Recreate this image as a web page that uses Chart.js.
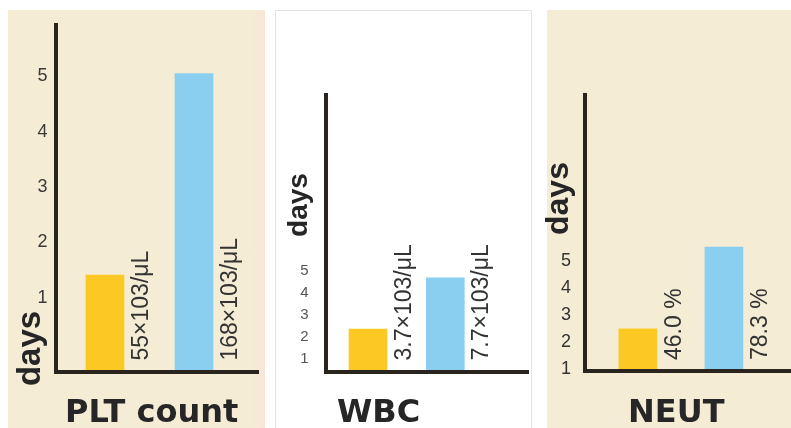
<!DOCTYPE html>
<html>
<head>
<meta charset="utf-8">
<script src="https://cdn.jsdelivr.net/npm/chart.js@4.4.1/dist/chart.umd.min.js"></script>
<style>
  html, body { margin: 0; padding: 0; background: #fff; }
  #stage { position: relative; width: 791px; height: 428px; overflow: hidden; }
  .panel { position: absolute; top: 10px; height: 418px; }
  #p1 { left: 8px; width: 257px; background: linear-gradient(to right, #f4ecd5 0, #f4ecd5 244px, #f9e5d7 257px); }
  #p2 { left: 275px; width: 255px; height: 420px; background: #fff; border: 1px solid #e3e3e3; }
  #p3 { left: 547px; width: 244px; background: #f4ecd5; }
  canvas { position: absolute; left: 0; top: 0; }
</style>
</head>
<body>
<div id="stage">
  <div class="panel" id="p1"></div>
  <div class="panel" id="p2"></div>
  <div class="panel" id="p3"></div>
  <canvas id="c0" width="791" height="428"></canvas>
  <canvas id="c1" width="791" height="428"></canvas>
  <canvas id="c2" width="791" height="428"></canvas>
</div>
<script>
// Chart values
const panelNames = ['PLT count', 'WBC', 'NEUT'];
const yellowDays = [1.41, 2.35, 2.47];
const blueDays = [5.05, 4.69, 5.5];
const yellowNotes = ['55×103/μL', '3.7×103/μL', '46.0 %'];
const blueNotes = ['168×103/μL', '7.7×103/μL', '78.3 %'];
const dayTicks = [1, 2, 3, 4, 5];

// Colours
const yellow = '#fcc924';
const blue = '#8bcff0';
const ink = '#2a241f';

// Where each small chart sits on the page
const frames = [
  { area: [55.5, 25, 258, 371.5], yRange: [-0.334, 5.928], xRange: [0.444, 2.719],
    tick: { size: 18, color: '#3a3a3a', pad: 8 }, days: { size: 33, x: 40, y: 348.5 }, titleX: 65 },
  { area: [325.5, 95, 528, 371.5], yRange: [0.40, 13.08], xRange: [0.45, 3.07],
    tick: { size: 15, color: '#555', pad: 17 }, days: { size: 28, x: 307, y: 205 }, titleX: 337 },
  { area: [585, 95, 791, 371], yRange: [0.91, 11.13], xRange: [0.385, 2.78],
    tick: { size: 18, color: '#333', pad: 14 }, days: { size: 32, x: 568, y: 198.5 }, titleX: 628 }
];
const yAxisWidth = 40;

Chart.defaults.font.family = '"Liberation Sans", Arial, sans-serif';

// Rotated notes next to the bars, the "days" word and the panel name
const panelText = {
  id: 'panelText',
  afterDraw(chart, args, opts) {
    const ctx = chart.ctx;
    const y = chart.scales.y;
    const meta = chart.getDatasetMeta(0);
    ctx.save();
    ctx.fillStyle = '#333';
    ctx.font = '23px "Liberation Sans", Arial, sans-serif';
    ctx.textAlign = 'left';
    ctx.textBaseline = 'alphabetic';
    meta.data.forEach((bar, j) => {
      ctx.save();
      ctx.translate(bar.x + 43, y.bottom - 11);
      ctx.rotate(-Math.PI / 2);
      ctx.fillText(opts.notes[j], 0, 0);
      ctx.restore();
    });

    ctx.save();
    ctx.fillStyle = '#262626';
    ctx.font = 'bold ' + opts.days.size + 'px "Liberation Sans", Arial, sans-serif';
    ctx.textAlign = 'center';
    ctx.translate(opts.days.x, opts.days.y);
    ctx.rotate(-Math.PI / 2);
    ctx.fillText('days', 0, 0);
    ctx.restore();

    ctx.fillStyle = '#262626';
    ctx.font = 'bold 32px "DejaVu Sans", sans-serif';
    ctx.textAlign = 'left';
    ctx.fillText(opts.title, opts.titleX, 422);
    ctx.restore();
  }
};

frames.forEach((f, i) => {
  const [left, top, right, bottom] = f.area;
  new Chart(document.getElementById('c' + i), {
    type: 'bar',
    data: {
      datasets: [{
        data: [{ x: 1, y: yellowDays[i] }, { x: 2, y: blueDays[i] }],
        backgroundColor: [yellow, blue],
        base: f.yRange[0],
        barThickness: 38
      }]
    },
    options: {
      responsive: false,
      animation: false,
      layout: { padding: { left: left - yAxisWidth, top: top, right: 791 - right, bottom: 428 - bottom } },
      scales: {
        x: {
          type: 'linear',
          min: f.xRange[0],
          max: f.xRange[1],
          bounds: 'data',
          offset: false,
          grid: { display: false, drawTicks: false },
          ticks: { display: false },
          border: { color: ink, width: 4, z: 1 },
          afterFit: s => { s.height = 0; }
        },
        y: {
          min: f.yRange[0],
          max: f.yRange[1],
          bounds: 'data',
          grid: { display: false, drawTicks: false },
          border: { color: ink, width: 4, z: 1 },
          ticks: { font: { size: f.tick.size }, color: f.tick.color, padding: f.tick.pad },
          afterBuildTicks: s => { s.ticks = dayTicks.map(v => ({ value: v })); },
          afterFit: s => { s.width = yAxisWidth; }
        }
      },
      plugins: {
        legend: { display: false },
        tooltip: { enabled: false },
        panelText: {
          notes: [yellowNotes[i], blueNotes[i]],
          days: f.days,
          title: panelNames[i],
          titleX: f.titleX
        }
      }
    },
    plugins: [panelText]
  });
});
</script>
</body>
</html>
